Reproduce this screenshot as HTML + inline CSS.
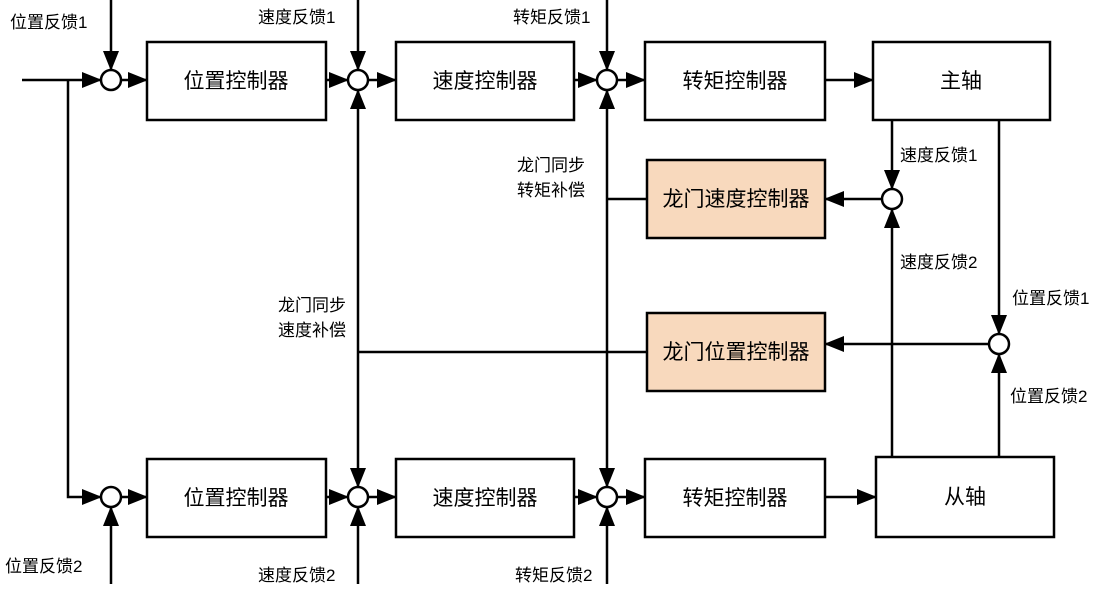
<!DOCTYPE html>
<html><head><meta charset="utf-8"><style>
body{margin:0;background:#fff;}
svg text{font-family:"Liberation Sans","Noto Sans CJK SC",sans-serif;fill:#000;}
</style></head><body>
<svg width="1096" height="584" viewBox="0 0 1096 584" xmlns="http://www.w3.org/2000/svg">
<defs>
<marker id="b" markerWidth="20" markerHeight="16" refX="19" refY="8" orient="auto" markerUnits="userSpaceOnUse" viewBox="0 0 20 16"><path d="M0,0 L20,8 L0,16 z" fill="#000"/></marker></defs>
<g stroke="#000" stroke-width="2.5" fill="none">
<line x1="22" y1="80" x2="101" y2="80" marker-end="url(#b)"/>
<polyline points="68,80 68,497 101,497" marker-end="url(#b)"/>
<line x1="121" y1="80" x2="147" y2="80" marker-end="url(#b)"/>
<line x1="326" y1="80" x2="348" y2="80" marker-end="url(#b)"/>
<line x1="368" y1="80" x2="396" y2="80" marker-end="url(#b)"/>
<line x1="574" y1="80" x2="597" y2="80" marker-end="url(#b)"/>
<line x1="617" y1="80" x2="645" y2="80" marker-end="url(#b)"/>
<line x1="825" y1="80" x2="873" y2="80" marker-end="url(#b)"/>
<line x1="121" y1="497" x2="147" y2="497" marker-end="url(#b)"/>
<line x1="326" y1="497" x2="348" y2="497" marker-end="url(#b)"/>
<line x1="368" y1="497" x2="396" y2="497" marker-end="url(#b)"/>
<line x1="574" y1="497" x2="597" y2="497" marker-end="url(#b)"/>
<line x1="617" y1="497" x2="645" y2="497" marker-end="url(#b)"/>
<line x1="825" y1="497" x2="876" y2="497" marker-end="url(#b)"/>
<line x1="111" y1="0" x2="111" y2="70" marker-end="url(#b)"/>
<line x1="358" y1="0" x2="358" y2="70" marker-end="url(#b)"/>
<line x1="607" y1="0" x2="607" y2="70" marker-end="url(#b)"/>
<line x1="111" y1="584" x2="111" y2="507" marker-end="url(#b)"/>
<line x1="358" y1="584" x2="358" y2="507" marker-end="url(#b)"/>
<line x1="607" y1="584" x2="607" y2="507" marker-end="url(#b)"/>
<line x1="358" y1="290" x2="358" y2="90" marker-end="url(#b)"/>
<line x1="358" y1="290" x2="358" y2="487" marker-end="url(#b)"/>
<line x1="607" y1="290" x2="607" y2="90" marker-end="url(#b)"/>
<line x1="607" y1="290" x2="607" y2="487" marker-end="url(#b)"/>
<line x1="607" y1="199" x2="647" y2="199"/>
<line x1="358" y1="352" x2="647" y2="352"/>
<line x1="892" y1="120" x2="892" y2="189" marker-end="url(#b)"/>
<line x1="892" y1="457" x2="892" y2="209" marker-end="url(#b)"/>
<line x1="882" y1="199" x2="825" y2="199" marker-end="url(#b)"/>
<line x1="999" y1="120" x2="999" y2="334" marker-end="url(#b)"/>
<line x1="999" y1="457" x2="999" y2="354" marker-end="url(#b)"/>
<line x1="989" y1="344" x2="825" y2="344" marker-end="url(#b)"/>
<rect x="147" y="42" width="179" height="78" fill="#fff"/>
<rect x="396" y="42" width="178" height="78" fill="#fff"/>
<rect x="645" y="42" width="180" height="78" fill="#fff"/>
<rect x="873" y="42" width="177" height="78" fill="#fff"/>
<rect x="147" y="459" width="179" height="78" fill="#fff"/>
<rect x="396" y="459" width="178" height="78" fill="#fff"/>
<rect x="645" y="459" width="180" height="78" fill="#fff"/>
<rect x="876" y="457" width="178" height="80" fill="#fff"/>
<rect x="647" y="160" width="178" height="78" fill="#f8d9bd"/>
<rect x="647" y="313" width="178" height="78" fill="#f8d9bd"/>
<g fill="#fff">
<circle cx="111" cy="80" r="10"/><circle cx="358" cy="80" r="10"/><circle cx="607" cy="80" r="10"/>
<circle cx="111" cy="497" r="10"/><circle cx="358" cy="497" r="10"/><circle cx="607" cy="497" r="10"/>
<circle cx="892" cy="199" r="10"/><circle cx="999" cy="344" r="10"/>
</g>
</g>
<g font-size="21" text-anchor="middle">
<text x="236" y="88">位置控制器</text>
<text x="485" y="88">速度控制器</text>
<text x="735" y="88">转矩控制器</text>
<text x="961" y="88">主轴</text>
<text x="236" y="505">位置控制器</text>
<text x="485" y="505">速度控制器</text>
<text x="735" y="505">转矩控制器</text>
<text x="965" y="504">从轴</text>
<text x="736" y="206">龙门速度控制器</text>
<text x="736" y="359">龙门位置控制器</text>
</g>
<g font-size="17">
<text x="10" y="28">位置反馈1</text>
<text x="258" y="23">速度反馈1</text>
<text x="513" y="23">转矩反馈1</text>
<text x="5" y="572">位置反馈2</text>
<text x="258" y="581">速度反馈2</text>
<text x="515" y="581">转矩反馈2</text>
<text x="517" y="171">龙门同步</text>
<text x="517" y="196">转矩补偿</text>
<text x="278" y="311">龙门同步</text>
<text x="278" y="336">速度补偿</text>
<text x="900" y="161">速度反馈1</text>
<text x="900" y="268">速度反馈2</text>
<text x="1012" y="304">位置反馈1</text>
<text x="1010" y="402">位置反馈2</text>
</g>
</svg>
</body></html>
